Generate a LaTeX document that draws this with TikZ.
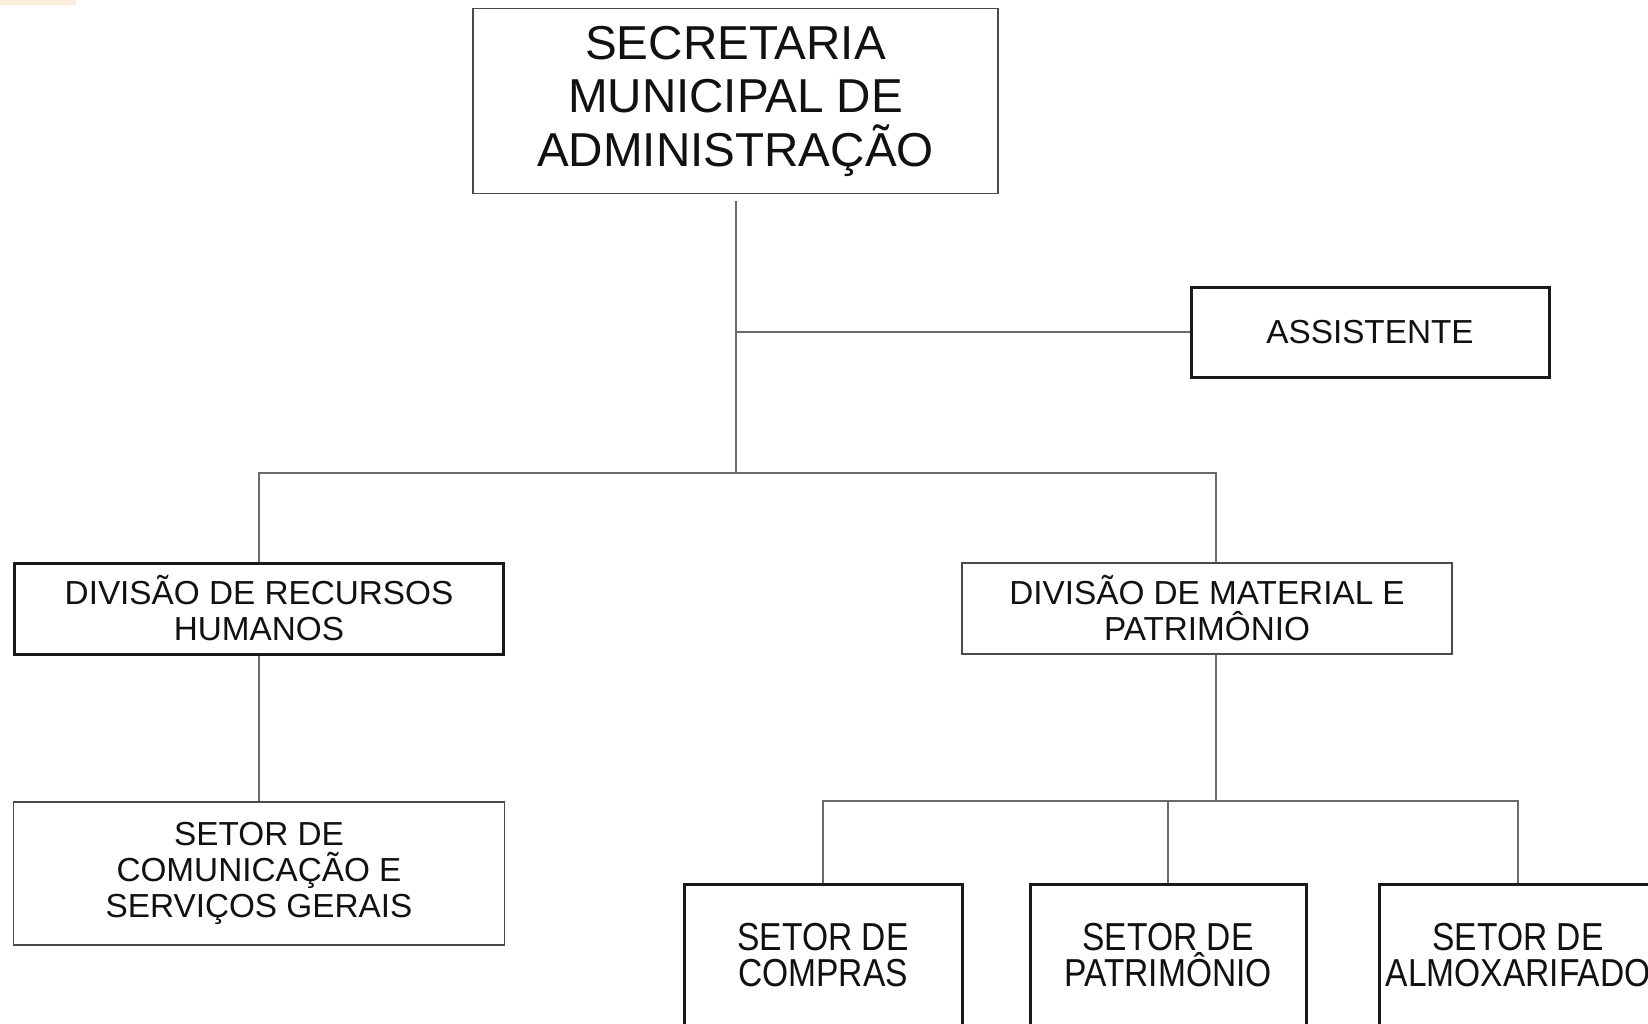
\documentclass[tikz,border=0pt]{standalone}
\usepackage{fontspec}
\setmainfont{Liberation Sans}
\newfontfamily\narrowfont[FakeStretch=0.86]{Liberation Sans}
\definecolor{linegray}{HTML}{6A6A6A}
\definecolor{boxgray}{HTML}{4A4A4A}
\definecolor{txt}{HTML}{111111}
\definecolor{peach}{HTML}{FCEEDC}
\tikzset{
  conn/.style={draw=linegray, line width=1.1pt},
  thinbox/.style={draw=boxgray, line width=1.1pt, fill=white, align=center, text=txt, inner sep=0pt},
  thickbox/.style={draw=black!90, line width=3pt, fill=white, align=center, text=txt, inner sep=0pt},
  midfont/.style={font=\fontsize{33.3}{36}\selectfont},
  bigfont/.style={font=\fontsize{47.6}{53.5}\selectfont},
  lowfont/.style={font=\narrowfont\fontsize{39}{36}\selectfont},
}
\begin{document}
\begin{tikzpicture}[x=1pt,y=-1pt]
\useasboundingbox (0,0) rectangle (1648,1024);
\clip (0,0) rectangle (1648,1024);
\fill[white] (0,0) rectangle (1648,1024);
\fill[peach] (0,0) rectangle (76,5);

\node[thinbox, bigfont, minimum width=525pt, minimum height=185pt] (top) at (735.5,101) {SECRETARIA\\MUNICIPAL DE\\ADMINISTRAÇÃO};
\node[thickbox, midfont, minimum width=358pt, minimum height=90pt] (assist) at (1370,332) {ASSISTENTE};
\node[thickbox, midfont, minimum width=489pt, minimum height=91pt] (ldiv) at (259,608.5) {DIVISÃO DE RECURSOS\\HUMANOS};
\node[thinbox, midfont, minimum width=490pt, minimum height=91pt] (rdiv) at (1207,608.5) {DIVISÃO DE MATERIAL E\\PATRIMÔNIO};
\node[thinbox, midfont, minimum width=491pt, minimum height=143pt] (com) at (259,873.5) {SETOR DE\\COMUNICAÇÃO E\\SERVIÇOS GERAIS};
\node[thickbox, lowfont, minimum width=278pt, minimum height=142pt] (compras) at (823,955) {SETOR DE\\COMPRAS};
\node[thickbox, lowfont, minimum width=276pt, minimum height=142pt] (patr) at (1168,955) {SETOR DE\\PATRIMÔNIO};
\node[thickbox, lowfont, minimum width=278pt, minimum height=142pt] (almox) at (1518,955) {SETOR DE\\ALMOXARIFADO};

\coordinate (j1) at (736,473);
\coordinate (j2) at (1216,473);
\coordinate (j3) at (1216,801);

\draw[conn] ([yshift=-7pt]top.south -| j1) -- (j1);
\draw[conn] (j1 |- assist.west) -- (assist.west);
\draw[conn] (ldiv.north) |- (j2) -- (j2 |- rdiv.north);
\draw[conn] (ldiv.south) -- (com.north);
\draw[conn] (j2 |- rdiv.south) -- (j3);
\draw[conn] (compras.north) |- (j3) -| (almox.north);
\draw[conn] (patr.north) -- (patr.north |- j3);
\end{tikzpicture}
\end{document}
